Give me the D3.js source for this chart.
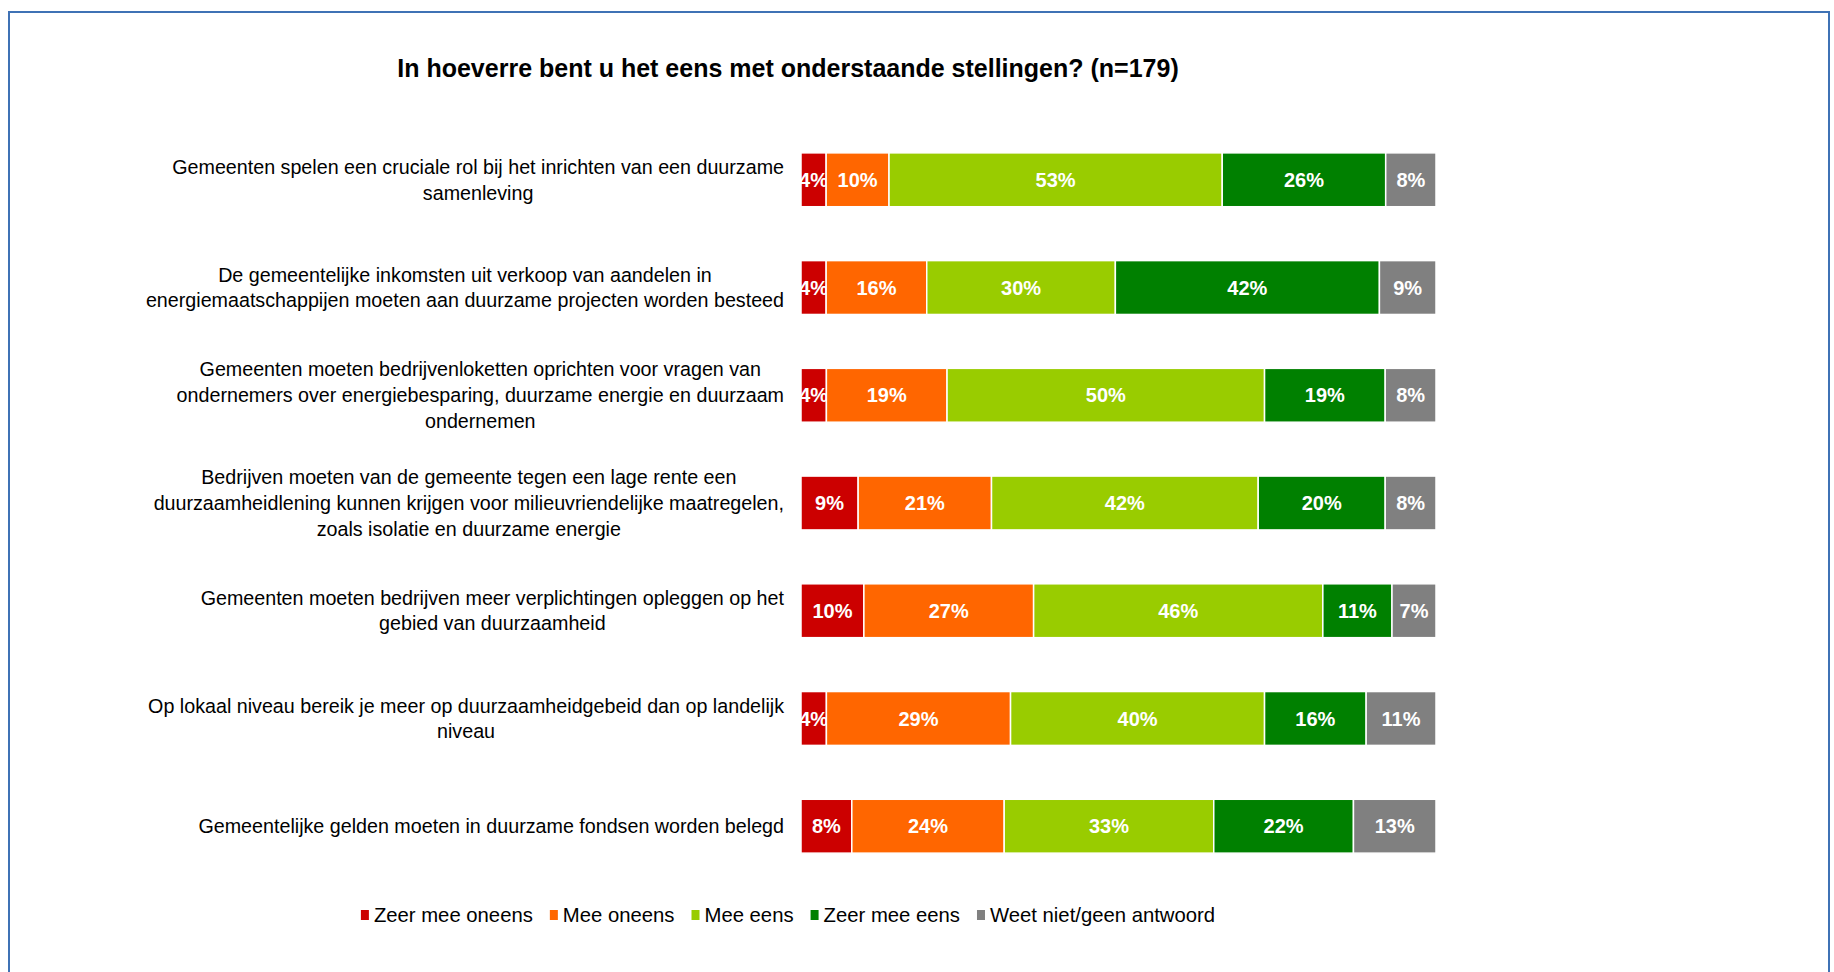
<!DOCTYPE html>
<html>
<head>
<meta charset="utf-8">
<script src="https://cdn.jsdelivr.net/npm/d3@7"></script>
<style>
  body { margin: 0; background: #fff; }
  svg text { font-family: "Liberation Sans", Arial, sans-serif; }
</style>
</head>
<body>
<svg id="chart" width="1834" height="972"></svg>
<script>
// statements (line breaks as in the original)
var categories = [
  "Gemeenten spelen een cruciale rol bij het inrichten van een duurzame\nsamenleving",
  "De gemeentelijke inkomsten uit verkoop van aandelen in\nenergiemaatschappijen moeten aan duurzame projecten worden besteed",
  "Gemeenten moeten bedrijvenloketten oprichten voor vragen van\nondernemers over energiebesparing, duurzame energie en duurzaam\nondernemen",
  "Bedrijven moeten van de gemeente tegen een lage rente een\nduurzaamheidlening kunnen krijgen voor milieuvriendelijke maatregelen,\nzoals isolatie en duurzame energie",
  "Gemeenten moeten bedrijven meer verplichtingen opleggen op het\ngebied van duurzaamheid",
  "Op lokaal niveau bereik je meer op duurzaamheidgebeid dan op landelijk\nniveau",
  "Gemeentelijke gelden moeten in duurzame fondsen worden belegd"
];

var seriesNames = ["Zeer mee oneens", "Mee oneens", "Mee eens", "Zeer mee eens", "Weet niet/geen antwoord"];
var seriesColors = ["#cc0000", "#ff6600", "#99cc00", "#008000", "#808080"];

var zeerMeeOneens = [4, 4, 4, 9, 10, 4, 8];
var meeOneens     = [10, 16, 19, 21, 27, 29, 24];
var meeEens       = [53, 30, 50, 42, 46, 40, 33];
var zeerMeeEens   = [26, 42, 19, 20, 11, 16, 22];
var weetNiet      = [8, 9, 8, 8, 7, 11, 13];

var title = "In hoeverre bent u het eens met onderstaande stellingen? (n=179)";

var seriesValues = [zeerMeeOneens, meeOneens, meeEens, zeerMeeEens, weetNiet];

// table for d3.stack
var rows = categories.map(function(c, i) {
  var r = { cat: c };
  seriesNames.forEach(function(s, j) { r[s] = seriesValues[j][i]; });
  return r;
});

var svg = d3.select("#chart");

// chart border
svg.append("rect")
    .attr("x", 9).attr("y", 12)
    .attr("width", 1820).attr("height", 990)
    .attr("fill", "none")
    .attr("stroke", "#3f72b5")
    .attr("stroke-width", 2);

svg.append("text")
    .attr("x", 788).attr("y", 77)
    .attr("text-anchor", "middle")
    .attr("font-size", 25)
    .attr("font-weight", "bold")
    .attr("fill", "#000")
    .text(title);

var x = d3.scaleLinear().domain([0, 1]).range([801, 1436]);
var y = d3.scaleBand().domain(categories).range([99, 907]).paddingInner(0.5).paddingOuter(0.5);

var stack = d3.stack().keys(seriesNames).offset(d3.stackOffsetExpand);
var stacked = stack(rows);

var layer = svg.selectAll("g.layer")
  .data(stacked)
  .enter().append("g")
    .attr("class", "layer")
    .attr("fill", function(d, i) { return seriesColors[i]; });

layer.selectAll("rect")
  .data(function(d) { return d; })
  .enter().append("rect")
    .attr("x", function(d) { return x(d[0]); })
    .attr("y", function(d) { return y(d.data.cat); })
    .attr("width", function(d) { return x(d[1]) - x(d[0]); })
    .attr("height", y.bandwidth())
    .attr("stroke", "#fff")
    .attr("stroke-width", 1.5);

// value labels
layer.each(function(s) {
  d3.select(this).selectAll("text")
    .data(s)
    .enter().append("text")
      .attr("x", function(d) { return (x(d[0]) + x(d[1])) / 2; })
      .attr("y", function(d) { return y(d.data.cat) + y.bandwidth() / 2; })
      .attr("dy", "0.36em")
      .attr("text-anchor", "middle")
      .attr("font-size", 20)
      .attr("font-weight", "bold")
      .attr("fill", "#fff")
      .text(function(d) { return d.data[s.key] + "%"; });
});

// category labels: block right aligned, lines centered inside
var labelRight = 784, lineH = 25.7;
categories.forEach(function(c) {
  var lines = c.split("\n");
  var g = svg.append("g");
  var t = g.selectAll("text")
    .data(lines)
    .enter().append("text")
      .attr("font-size", 19.7)
      .attr("fill", "#000")
      .attr("text-anchor", "middle")
      .text(function(d) { return d; });
  var maxW = d3.max(t.nodes(), function(n) { return n.getComputedTextLength(); });
  var cy = y(c) + y.bandwidth() / 2;
  t.attr("x", labelRight - maxW / 2)
   .attr("y", function(d, i) { return cy + (i - (lines.length - 1) / 2) * lineH; })
   .attr("dy", "0.35em");
});

// legend
var legend = svg.append("g");
var items = legend.selectAll("g")
  .data(seriesNames)
  .enter().append("g");
items.append("rect")
    .attr("width", 8).attr("height", 10)
    .attr("y", -5)
    .attr("fill", function(d, i) { return seriesColors[i]; });
items.append("text")
    .attr("x", 13)
    .attr("dy", "0.35em")
    .attr("font-size", 20.3)
    .attr("fill", "#000")
    .text(function(d) { return d; });
var pos = 0;
items.each(function() {
  var w = this.querySelector("text").getComputedTextLength();
  d3.select(this).attr("transform", "translate(" + pos + ",0)");
  pos += 13 + w + 17;
});
pos -= 17;
legend.attr("transform", "translate(" + (788 - pos / 2) + ",915)");
</script>
</body>
</html>
